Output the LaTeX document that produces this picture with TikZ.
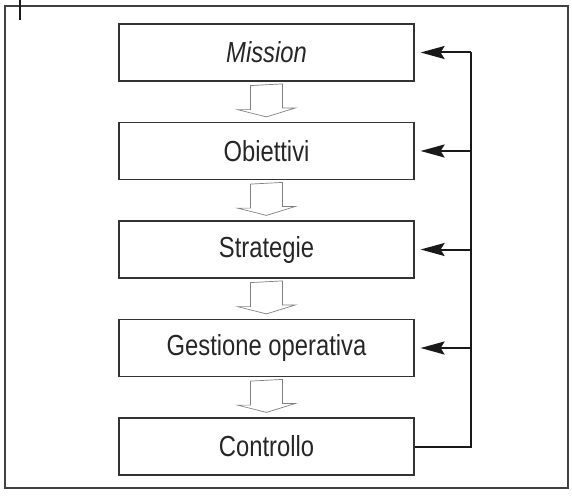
\documentclass[tikz,border=0pt]{standalone}
\usepackage{fontspec}
\setmainfont{Liberation Sans}[FakeStretch=0.82]
\usetikzlibrary{arrows.meta}

\begin{document}
\begin{tikzpicture}[x=1pt,y=-1pt,
		box/.style={draw=black!80,line width=1.2pt,minimum width=295pt,minimum height=57pt,
			inner sep=0pt,font=\fontsize{29}{34}\selectfont,text=black!85},
		blockarrow/.style={draw=black!50,line width=0.7pt,fill=white},
		feedback/.style={draw=black!90,line width=2pt},
		fbarrow/.style={feedback,-{Stealth[length=24pt,width=13pt,inset=4pt]}}]
		\useasboundingbox (0,0) rectangle (572,495);
		% frame
		\draw[black!75,line width=1.2pt] (5,6) rectangle (568,488);
		\draw[black!90,line width=2pt] (20,0) -- (20,20);
		% boxes
		\foreach\i/\t in {1/{\itshape Mission},2/Obiettivi,3/Strategie,4/Gestione operativa,5/Controllo}
		\node[box] (N\i) at (266.5,{52.5+98.5*(\i-1)}) {\t};
		% block arrows
		\foreach\i in {1,2,3,4}
		\draw[blockarrow] ([xshift=-16pt,yshift=-4pt]N\i.south) -- ++(0,24) -- ++(-13,0)
			-- ([yshift=5pt]N\i.south |- {N\the\numexpr\i+1\relax}.north) -- ++(29,-9) -- ++(-13,0) -- ++(0,-24) -- cycle;
		% feedback line
		\coordinate (C5) at ([xshift=56pt]N5.east);
		\coordinate (C1) at ([xshift=56pt]N1.east);
		\draw[feedback] (N5.east) -- (C5) -- (C1);
		\foreach\i in {1,2,3,4}
		\draw[fbarrow] (C5 |- N\i.east) -- ([xshift=6pt]N\i.east);
	\end{tikzpicture}
\end{document}
